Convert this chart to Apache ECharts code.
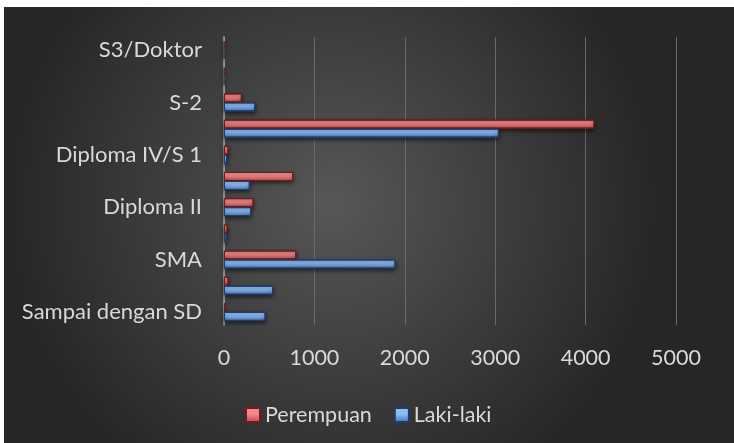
<!DOCTYPE html>
<html>
<head>
<meta charset="utf-8">
<script src="https://cdn.jsdelivr.net/npm/echarts@6/dist/echarts.min.js"></script>
<style>
	html, body { margin: 0; padding: 0; background: #ffffff; }
	#main { position: absolute; left: 4px; top: 7px; width: 730px; height: 436px; }
</style>
</head>
<body>
<div id="main"></div>
<script>
	// kategori pendidikan (dari bawah ke atas)
	var categories = ['Sampai dengan SD', 'SMP', 'SMA', 'Diploma I', 'Diploma II', 'Diploma III',
		'Diploma IV/S 1', 'S-1', 'S-2', 'Spesialis', 'S3/Doktor'];
	var lakiLaki = [459, 544, 1897, 28, 300, 285, 35, 3040, 345, 3, 2];
	var perempuan = [13, 50, 798, 39, 326, 765, 50, 4098, 197, 5, 3];
	var xTicks = [0, 1000, 2000, 3000, 4000, 5000];

	var myChart = echarts.init(document.getElementById('main'));
	var font = 'Lato, "Open Sans", sans-serif';

	function barGrad(top, bottom) {
		return new echarts.graphic.LinearGradient(0, 0, 0, 1, [
			{ offset: 0, color: top },
			{ offset: 0.45, color: top },
			{ offset: 1, color: bottom }
		]);
	}

	var option = {
		backgroundColor: new echarts.graphic.RadialGradient(0.45, 0.45, 0.75, [
			{ offset: 0, color: '#575757' },
			{ offset: 1, color: '#262626' }
		]),
		grid: {
			left: 220,
			right: 58,
			top: 30,
			bottom: 118
		},
		legend: {
			data: ['Perempuan', 'Laki-laki'],
			top: 392,
			left: 236,
			itemWidth: 14,
			itemHeight: 14,
			itemGap: 22,
			icon: 'rect',
			textStyle: {
				color: '#d9d9d9',
				fontFamily: font,
				fontSize: 21.5
			}
		},
		xAxis: {
			type: 'value',
			min: xTicks[0],
			max: xTicks[xTicks.length - 1],
			interval: 1000,
			axisLine: { show: false },
			axisTick: { show: false },
			splitLine: {
				lineStyle: { color: '#6a6a6a', width: 1 }
			},
			axisLabel: {
				color: '#d9d9d9',
				fontFamily: font,
				fontSize: 21.5,
				margin: 22,
				formatter: function (v) { return String(v); }
			}
		},
		yAxis: {
			type: 'category',
			data: categories,
			axisLine: {
				show: true,
				lineStyle: { color: '#a6a6a6', width: 1.5 }
			},
			axisTick: { show: false },
			axisLabel: {
				interval: 1,
				color: '#d9d9d9',
				fontFamily: font,
				fontSize: 22,
				margin: 22
			}
		},
		series: [{
				name: 'Perempuan',
				type: 'bar',
				data: perempuan,
				barWidth: 9,
				barGap: '0%',
				itemStyle: {
					color: barGrad('#f08a8a', '#c0403f'),
					borderColor: '#6e1c1c',
					borderWidth: 1,
					shadowColor: 'rgba(0,0,0,0.55)',
					shadowBlur: 4,
					shadowOffsetY: 2
				}
			},
			{
				name: 'Laki-laki',
				type: 'bar',
				data: lakiLaki,
				barWidth: 9,
				barGap: '0%',
				itemStyle: {
					color: barGrad('#8fbcf2', '#3b6db3'),
					borderColor: '#1f3d6b',
					borderWidth: 1,
					shadowColor: 'rgba(0,0,0,0.55)',
					shadowBlur: 4,
					shadowOffsetY: 2
				}
			}
		]
	};

	option && myChart.setOption(option);
</script>
</body>
</html>
